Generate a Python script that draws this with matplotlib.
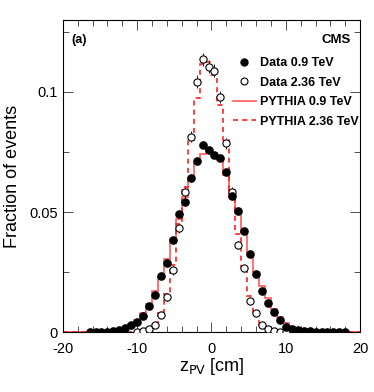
"""
Primary vertex z distribution, data vs PYTHIA (0.9 and 2.36 TeV)
"""

import numpy as np
import matplotlib
matplotlib.use("Agg")
import matplotlib.pyplot as plt
from matplotlib.ticker import MultipleLocator, FuncFormatter
from matplotlib.lines import Line2D

plt.rcParams['font.family'] = ['Liberation Sans', 'DejaVu Sans']

# 50 bins of 0.8 cm between -20 and 20 cm
bin_edges = np.linspace(-20, 20, 51)
nan = np.nan

data_090 = [nan, nan, nan, nan, 0.0001, 0.0001, 0.0001, 0.0002, 0.0004, 0.0008,
            0.0015, 0.0029, 0.0042, 0.0067, 0.0108, 0.0154, 0.0235, 0.0286, 0.0383, 0.0490,
            0.0540, 0.0643, 0.0714, 0.0780, 0.0758, 0.0737, 0.0723, 0.0668, 0.0567, 0.0506,
            0.0422, 0.0325, 0.0240, 0.0172, 0.0120, 0.0085, 0.0050, 0.0022, 0.0012, 0.0008,
            0.0005, 0.0003, 0.0002, 0.0001, 0.0001, 0.0001, 0.0001, 0.0001, nan, nan]

data_236 = [nan, nan, nan, nan, nan, nan, nan, nan, nan, nan,
            nan, nan, 0.0002, 0.0004, 0.0012, 0.0029, 0.0071, 0.0147, 0.0257, 0.0432,
            0.0582, 0.0814, 0.1043, 0.1136, 0.1106, 0.1089, 0.0980, 0.0786, 0.0582, 0.0363,
            0.0265, 0.0130, 0.0078, 0.0029, 0.0012, 0.0005, 0.0002, 0.0001, nan, nan,
            nan, nan, nan, nan, nan, nan, nan, nan, nan, nan]

err_236 = [0, 0, 0, 0, 0, 0, 0, 0, 0, 0,
           0, 0, 0.0003, 0.0004, 0.0006, 0.0008, 0.0012, 0.0016, 0.0018, 0.0020,
           0.0022, 0.0024, 0.0026, 0.0028, 0.0028, 0.0028, 0.0026, 0.0024, 0.0022, 0.0018,
           0.0016, 0.0012, 0.0010, 0.0006, 0.0004, 0.0003, 0.0002, 0.0001, 0, 0,
           0, 0, 0, 0, 0, 0, 0, 0, 0, 0]

pythia_090 = [0, 0, 0, 0, 0, 0, 0.0001, 0.0002, 0.0004, 0.0009,
              0.0018, 0.0032, 0.0050, 0.0078, 0.0117, 0.0172, 0.0228, 0.0303, 0.0386, 0.0470,
              0.0561, 0.0633, 0.0703, 0.0740, 0.0761, 0.0747, 0.0717, 0.0654, 0.0564, 0.0494,
              0.0411, 0.0330, 0.0251, 0.0190, 0.0140, 0.0094, 0.0061, 0.0036, 0.0022, 0.0012,
              0.0007, 0.0004, 0.0002, 0.0001, 0, 0, 0, 0, 0, 0]

pythia_236 = [0, 0, 0, 0, 0, 0, 0, 0, 0, 0,
              0, 0.0001, 0.0003, 0.0008, 0.0020, 0.0039, 0.0085, 0.0160, 0.0280, 0.0450,
              0.0606, 0.0800, 0.0974, 0.1115, 0.1125, 0.1070, 0.0946, 0.0800, 0.0590, 0.0410,
              0.0270, 0.0150, 0.0071, 0.0030, 0.0012, 0.0005, 0.0002, 0.0001, 0, 0,
              0, 0, 0, 0, 0, 0, 0, 0, 0, 0]

legend_labels = ["Data 0.9 TeV", "Data 2.36 TeV", "PYTHIA 0.9 TeV", "PYTHIA 2.36 TeV"]


def root_fmt(v, pos):
    """Tick labels without trailing zeros, like ROOT."""
    return "%g" % round(v, 6)


def plot_zpv():
    fig = plt.figure(figsize=(3.74, 3.92), dpi=100)
    ax = fig.add_axes([0.168, 0.153, 0.795, 0.796])

    centers = 0.5 * (bin_edges[:-1] + bin_edges[1:])

    # MC histograms
    ax.stairs(pythia_090, bin_edges, color='#ff5a5a', lw=1.2, baseline=0)
    ax.stairs(pythia_236, bin_edges, color='#ff2020', lw=1.2, baseline=0,
              linestyle=(0, (3, 2.5)))

    # data points
    ax.errorbar(centers, data_236, yerr=err_236, fmt='o', ms=5.2, mfc='white',
                mec='black', mew=0.8, ecolor='black', elinewidth=0.6, capsize=0,
                zorder=3)
    ax.plot(centers, data_090, 'o', ms=5.2, color='black', zorder=4)

    ax.set_xlim(-20, 20)
    ax.set_ylim(0, 0.13)

    ax.xaxis.set_major_locator(MultipleLocator(10))
    ax.xaxis.set_minor_locator(MultipleLocator(2))
    ax.yaxis.set_major_locator(MultipleLocator(0.05))
    ax.yaxis.set_minor_locator(MultipleLocator(0.025))
    ax.yaxis.set_major_formatter(FuncFormatter(root_fmt))
    ax.xaxis.set_major_formatter(FuncFormatter(root_fmt))
    ax.tick_params(which='both', direction='in', top=True, right=True,
                   labelsize=10.5, width=0.6, colors='#333333', labelcolor='black')
    ax.tick_params(which='major', length=7)
    ax.tick_params(which='minor', length=4)
    ax.tick_params(axis='x', which='major', pad=7)
    for sp in ax.spines.values():
        sp.set_linewidth(0.8)

    ax.set_xlabel(r'z$_{\mathrm{PV}}$ [cm]', fontsize=13, labelpad=0)
    ax.set_ylabel('Fraction of events', fontsize=13, labelpad=6)

    ax.text(0.03, 0.955, '(a)', transform=ax.transAxes, fontsize=9,
            fontweight='bold', va='top', ha='left')
    ax.text(0.97, 0.955, 'CMS', transform=ax.transAxes, fontsize=9.5,
            fontweight='bold', va='top', ha='right')

    handles = [
        Line2D([], [], ls='none', marker='o', ms=5, color='black'),
        Line2D([], [], ls='none', marker='o', ms=5, mfc='white', mec='black', mew=0.8),
        Line2D([], [], color='#ff5a5a', lw=1.2),
        Line2D([], [], color='#ff2020', lw=1.2, ls=(0, (3, 2.5))),
    ]
    ax.legend(handles, legend_labels, loc='upper right', bbox_to_anchor=(1.012, 0.897),
              frameon=False, prop={'weight': 'bold', 'size': 9},
              handlelength=1.8, handletextpad=0.35, labelspacing=0.6,
              borderaxespad=0.0)

    fig.savefig('out.png', dpi=100)
    return fig


if __name__ == '__main__':
    plot_zpv()
